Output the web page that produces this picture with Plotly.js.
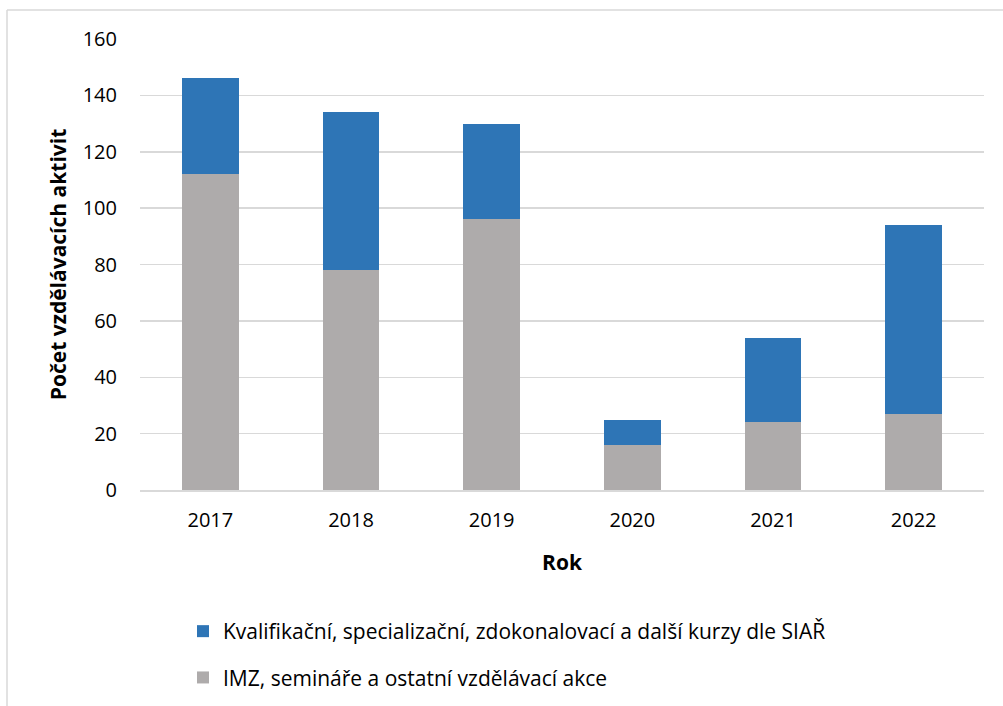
<!DOCTYPE html>
<html>
<head>
<meta charset="utf-8">
<script src="https://cdn.plot.ly/plotly-3.0.1.min.js"></script>
<style>
html,body{margin:0;padding:0;background:#fff;}
#chart{width:1003px;height:706px;}
</style>
</head>
<body>
<div id="chart"></div>
<script>
const years = ['2017', '2018', '2019', '2020', '2021', '2022'];
const imzValues = [112, 78, 96, 16, 24, 27];
const kurzyValues = [34, 56, 34, 9, 30, 67];
const seriesNames = ['IMZ, semináře a ostatní vzdělávací akce', 'Kvalifikační, specializační, zdokonalovací a další kurzy dle SIAŘ'];
const yTicks = [0, 20, 40, 60, 80, 100, 120, 140, 160];

const FONT = '"Open Sans", "Noto Sans", sans-serif';

const L = 140, R = 984, T = 39, B = 490, W = 1003, H = 706;
const pw = R - L, ph = B - T;
function px(x){ return (x - L) / pw; }
function py(y){ return (B - y) / ph; }

const traces = [
  {
    type: 'bar', x: years, y: imzValues, name: seriesNames[0],
    marker: {color: '#AEABAB', line: {width: 0}},
    legendgroup: 'g1', legendrank: 2, hoverinfo: 'x+y+name'
  },
  {
    type: 'bar', x: years, y: kurzyValues, name: seriesNames[1],
    marker: {color: '#2E75B6', line: {width: 0}},
    legendgroup: 'g2', legendrank: 1, hoverinfo: 'x+y+name'
  }
];

const layout = {
  width: W, height: H,
  margin: {l: L, r: W - R, t: T, b: H - B, pad: 0, autoexpand: false},
  paper_bgcolor: '#ffffff', plot_bgcolor: '#ffffff',
  barmode: 'stack', bargap: 0.595,
  font: {family: FONT, size: 20, color: '#000000'},
  xaxis: {
    type: 'category', automargin: false,
    showgrid: false, zeroline: false,
    showline: true, linecolor: '#D9D9D9', linewidth: 1.5,
    ticks: '', tickfont: {size: 20, family: FONT, color: '#000'},
    ticklabelstandoff: 11,
    title: {text: '<b>Rok</b>', font: {size: 21, family: FONT, color: '#000'}, standoff: 24}
  },
  yaxis: {
    range: [0, 160], tickvals: yTicks, ticktext: yTicks.map(String), automargin: false,
    showgrid: true, gridcolor: '#D9D9D9', gridwidth: 1.5,
    zeroline: false, showline: false, ticks: '',
    tickfont: {size: 20, family: FONT, color: '#000'},
    ticklabelstandoff: 22,
    title: {text: '<b>Počet vzdělávacích aktivit</b>', font: {size: 21, family: FONT, color: '#000'}, standoff: 10}
  },
  legend: {
    orientation: 'v', traceorder: 'grouped',
    x: px(183), xanchor: 'left', y: py(611), yanchor: 'top',
    font: {size: 21, family: FONT, color: '#000'},
    tracegroupgap: 16, itemwidth: 30,
    bgcolor: 'rgba(0,0,0,0)'
  },
  showlegend: true,
  shapes: [
    {type: 'line', xref: 'paper', yref: 'paper', x0: px(7), x1: px(1010), y0: py(10), y1: py(10), line: {color: '#D9D9D9', width: 1.5}},
    {type: 'line', xref: 'paper', yref: 'paper', x0: px(7), x1: px(7), y0: py(10), y1: py(720), line: {color: '#D9D9D9', width: 1.5}}
  ]
};

Plotly.newPlot('chart', traces, layout, {displayModeBar: false, staticPlot: true});
</script>
</body>
</html>
